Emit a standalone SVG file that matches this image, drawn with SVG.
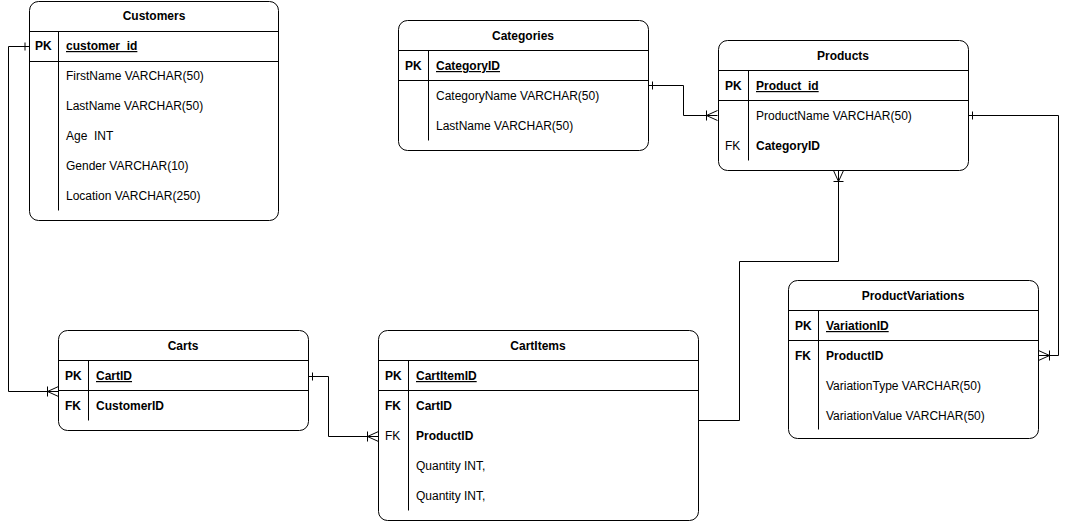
<svg xmlns="http://www.w3.org/2000/svg" width="1068" height="521" viewBox="0 0 1068 521">
<defs>
<style>
.box{fill:#fff;stroke:#000;stroke-width:1}
.ln{stroke:#000;stroke-width:1;fill:none}
text{font-family:"Liberation Sans",Arial,sans-serif;font-size:12px;fill:#000}
.t{font-weight:bold;text-anchor:middle}
.b{font-weight:bold}
.u{font-weight:bold;text-decoration:underline}
.edge{stroke:#000;stroke-width:1;fill:none}
</style>
<marker id="one" markerUnits="userSpaceOnUse" viewBox="-2 -8 16 16" refX="0" refY="0" markerWidth="16" markerHeight="16" orient="auto">
<path d="M4,-4 L4,4" stroke="#000" stroke-width="1" fill="none"/>
</marker>
<marker id="many" markerUnits="userSpaceOnUse" viewBox="-14 -8 16 16" refX="0" refY="0" markerWidth="16" markerHeight="16" orient="auto">
<path d="M-11,-5 L-11,5 M-11,0 L0,-5 M-11,0 L0,5" stroke="#000" stroke-width="1" fill="none"/>
</marker>
</defs>

<g id="connectors">
<path class="edge" d="M29,46.5 H8.5 V391.5 H58.5" marker-start="url(#one)" marker-end="url(#many)"/>
<path class="edge" d="M308.5,376.5 H328.5 V436.5 H378.5" marker-start="url(#one)" marker-end="url(#many)"/>
<path class="edge" d="M698.5,420.5 H739.5 V261.5 H838.5 V170.5" marker-end="url(#many)"/>
<path class="edge" d="M648.5,85.5 H683.5 V115.5 H717.5" marker-start="url(#one)" marker-end="url(#many)"/>
<path class="edge" d="M968.5,115.5 H1058.5 V355.5 H1038.5" marker-start="url(#one)" marker-end="url(#many)"/>
</g>

<g id="customers">
<rect class="box" x="29.5" y="1.5" width="249" height="219" rx="9"/>
<line class="ln" x1="29.5" y1="31.5" x2="278.5" y2="31.5"/>
<line class="ln" x1="29.5" y1="61.5" x2="278.5" y2="61.5"/>
<line class="ln" x1="58.5" y1="31.5" x2="58.5" y2="210.5"/>
<text class="t" x="154" y="20">Customers</text>
<text class="b" x="35" y="50">PK</text>
<text class="u" x="66" y="50">customer_id</text>
<text x="66" y="80">FirstName VARCHAR(50)</text>
<text x="66" y="110">LastName VARCHAR(50)</text>
<text x="66" y="140" xml:space="preserve">Age  INT</text>
<text x="66" y="170">Gender VARCHAR(10)</text>
<text x="66" y="200">Location VARCHAR(250)</text>
</g>

<g id="categories">
<rect class="box" x="398.5" y="20.5" width="250" height="130" rx="9"/>
<line class="ln" x1="398.5" y1="50.5" x2="648.5" y2="50.5"/>
<line class="ln" x1="398.5" y1="80.5" x2="648.5" y2="80.5"/>
<line class="ln" x1="428.5" y1="50.5" x2="428.5" y2="140.5"/>
<text class="t" x="523" y="40">Categories</text>
<text class="b" x="405" y="70">PK</text>
<text class="u" x="436" y="70">CategoryID</text>
<text x="436" y="100">CategoryName VARCHAR(50)</text>
<text x="436" y="130">LastName VARCHAR(50)</text>
</g>

<g id="products">
<rect class="box" x="718.5" y="40.5" width="250" height="130" rx="9"/>
<line class="ln" x1="718.5" y1="70.5" x2="968.5" y2="70.5"/>
<line class="ln" x1="718.5" y1="100.5" x2="968.5" y2="100.5"/>
<line class="ln" x1="748.5" y1="70.5" x2="748.5" y2="160.5"/>
<text class="t" x="843" y="60">Products</text>
<text class="b" x="725" y="90">PK</text>
<text class="u" x="756" y="90">Product_id</text>
<text x="756" y="120">ProductName VARCHAR(50)</text>
<text x="725" y="150">FK</text>
<text class="b" x="756" y="150">CategoryID</text>
</g>

<g id="carts">
<rect class="box" x="58.5" y="330.5" width="250" height="100" rx="9"/>
<line class="ln" x1="58.5" y1="360.5" x2="308.5" y2="360.5"/>
<line class="ln" x1="58.5" y1="390.5" x2="308.5" y2="390.5"/>
<line class="ln" x1="88.5" y1="360.5" x2="88.5" y2="420.5"/>
<text class="t" x="183" y="350">Carts</text>
<text class="b" x="65" y="380">PK</text>
<text class="u" x="96" y="380">CartID</text>
<text class="b" x="65" y="410">FK</text>
<text class="b" x="96" y="410">CustomerID</text>
</g>

<g id="cartitems">
<rect class="box" x="378.5" y="330.5" width="320" height="190" rx="9"/>
<line class="ln" x1="378.5" y1="360.5" x2="698.5" y2="360.5"/>
<line class="ln" x1="378.5" y1="390.5" x2="698.5" y2="390.5"/>
<line class="ln" x1="408.5" y1="360.5" x2="408.5" y2="510.5"/>
<text class="t" x="538" y="350">CartItems</text>
<text class="b" x="385" y="380">PK</text>
<text class="u" x="416" y="380">CartItemID</text>
<text class="b" x="385" y="410">FK</text>
<text class="b" x="416" y="410">CartID</text>
<text x="385" y="440">FK</text>
<text class="b" x="416" y="440">ProductID</text>
<text x="416" y="470">Quantity INT,</text>
<text x="416" y="500">Quantity INT,</text>
</g>

<g id="productvariations">
<rect class="box" x="788.5" y="280.5" width="250" height="158" rx="9"/>
<line class="ln" x1="788.5" y1="310.5" x2="1038.5" y2="310.5"/>
<line class="ln" x1="788.5" y1="340.5" x2="1038.5" y2="340.5"/>
<line class="ln" x1="818.5" y1="310.5" x2="818.5" y2="429.5"/>
<text class="t" x="913" y="300">ProductVariations</text>
<text class="b" x="795" y="330">PK</text>
<text class="u" x="826" y="330">VariationID</text>
<text class="b" x="795" y="360">FK</text>
<text class="b" x="826" y="360">ProductID</text>
<text x="826" y="390">VariationType VARCHAR(50)</text>
<text x="826" y="420">VariationValue VARCHAR(50)</text>
</g>
</svg>
